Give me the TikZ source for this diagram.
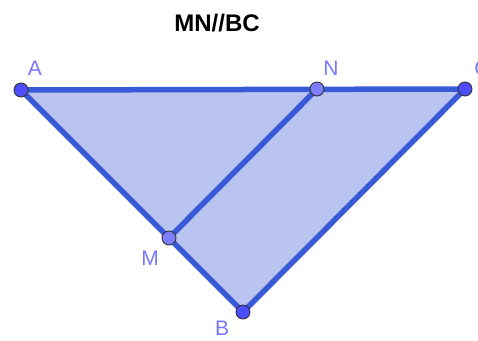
\documentclass[tikz,border=0pt]{standalone}
\usepackage{fontspec}
\setmainfont{Liberation Sans}
\definecolor{edgeblue}{RGB}{57,90,214}
\definecolor{fillblue}{RGB}{185,197,240}
\definecolor{ptdark}{RGB}{77,77,255}
\definecolor{ptlight}{RGB}{125,125,255}
\definecolor{lbl}{RGB}{120,120,255}
\tikzset{
  seg/.style={draw=edgeblue,line width=5.5pt,line cap=round},
  freept/.style={circle,draw=black!80,line width=0.9pt,fill=ptdark,minimum size=14pt,inner sep=0pt},
  deppt/.style={circle,draw=black!80,line width=0.9pt,fill=ptlight,minimum size=14pt,inner sep=0pt},
  lab/.style={text=lbl,font=\fontsize{21}{25}\selectfont,inner sep=0pt}
}
\begin{document}
\begin{tikzpicture}[x=1pt,y=-1pt]
\clip (0,0) rectangle (478,340);
\useasboundingbox (0,0) rectangle (478,340);
\coordinate (pA) at (21,90);
\coordinate (pN) at (317,89);
\coordinate (pC) at (465,89);
\coordinate (pM) at (169,238);
\coordinate (pB) at (243,312);
\fill[fillblue] (pA) -- (pC) -- (pB) -- cycle;
\draw[seg] (pA) -- (pC);
\draw[seg] (pC) -- (pB);
\draw[seg] (pB) -- (pA);
\draw[seg] (pM) -- (pN);
\node[freept] (A) at (pA) {};
\node[freept] (C) at (pC) {};
\node[freept] (B) at (pB) {};
\node[deppt] (M) at (pM) {};
\node[deppt] (N) at (pN) {};
\node[lab] (lA) at (35,68) {A};
\node[lab] (lN) at (331,68) {N};
\node[lab] (lC) at (482,68) {C};
\node[lab] (lM) at (150,258) {M};
\node[lab] (lB) at (222,328) {B};
\node[font=\fontsize{24}{28}\bfseries\selectfont,inner sep=0pt] (title) at (217,23.5) {MN//BC};
\end{tikzpicture}
\end{document}
